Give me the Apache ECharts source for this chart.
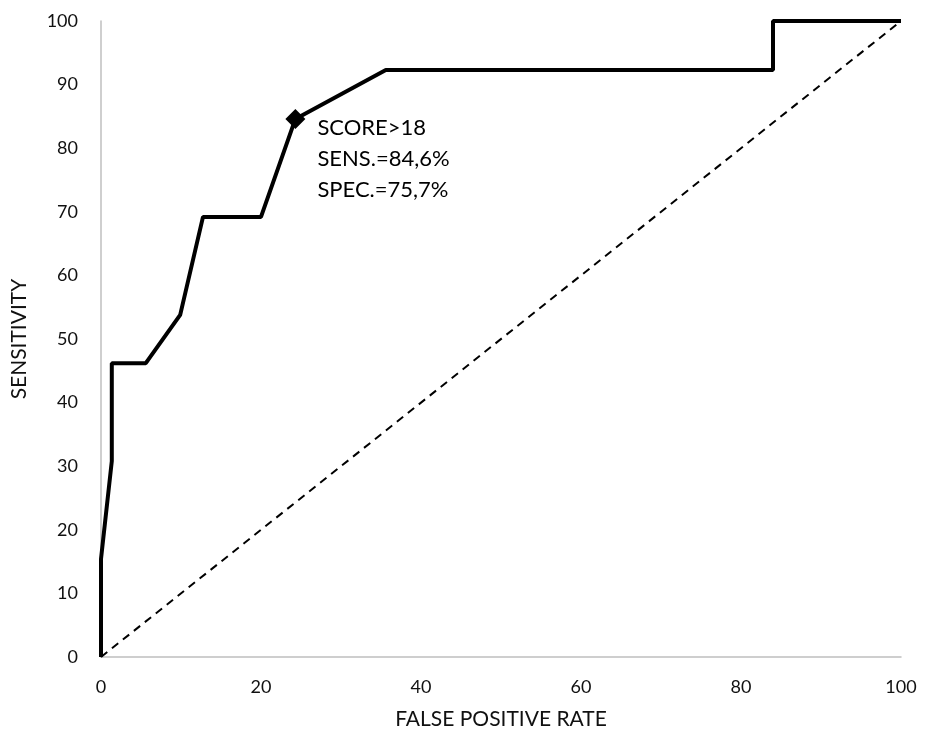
<!DOCTYPE html>
<html>
<head>
<meta charset="utf-8">
<script src="https://cdn.jsdelivr.net/npm/echarts@6/dist/echarts.min.js"></script>
<style>html,body{margin:0;padding:0;background:#fff}#c{width:933px;height:735px}</style>
</head>
<body>
<div id="c"></div>
<script>
var rocFPR = [0, 0, 1.35, 1.35, 5.6, 9.9, 12.75, 20.0, 24.3, 35.6, 84.0, 84.0, 100];
var rocSens = [0, 15.4, 30.8, 46.2, 46.2, 53.8, 69.2, 69.2, 84.6, 92.3, 92.3, 100, 100];
var refFPR = [0, 100];
var refSens = [0, 100];
var cutFPR = [24.3];
var cutSens = [84.6];
var cutLabel = ['SCORE>18', 'SENS.=84,6%', 'SPEC.=75,7%'];
var xTitle = 'FALSE POSITIVE RATE';
var yTitle = 'SENSITIVITY';

function pairs(a, b) { return a.map(function (v, i) { return [v, b[i]]; }); }

var font = 'Lato';
var chart = echarts.init(document.getElementById('c'));
chart.setOption({
  animation: false,
  grid: { left: 101, right: 32, top: 21, bottom: 78 },
  xAxis: {
    type: 'value', min: 0, max: 100, interval: 20,
    name: xTitle, nameLocation: 'middle', nameGap: 52,
    nameTextStyle: { fontFamily: font, fontSize: 21, color: '#111' },
    axisLine: { lineStyle: { color: '#bfbfbf', width: 1.5 } },
    axisTick: { show: false },
    splitLine: { show: false },
    axisLabel: { fontFamily: font, fontSize: 18, color: '#111', margin: 21 }
  },
  yAxis: {
    type: 'value', min: 0, max: 100, interval: 10,
    name: yTitle, nameLocation: 'middle', nameGap: 71, nameRotate: 90,
    nameTextStyle: { fontFamily: font, fontSize: 21, color: '#111' },
    axisLine: { show: true, lineStyle: { color: '#bfbfbf', width: 1.5 } },
    axisTick: { show: false },
    splitLine: { show: false },
    axisLabel: { fontFamily: font, fontSize: 18, color: '#111', margin: 23 }
  },
  series: [
    {
      type: 'line', data: pairs(refFPR, refSens), symbol: 'none',
      lineStyle: { color: '#000', width: 2, type: [8, 6] }, z: 1
    },
    {
      type: 'line', data: pairs(rocFPR, rocSens), symbol: 'none',
      lineStyle: { color: '#000', width: 4 }, z: 2
    },
    {
      type: 'scatter', data: pairs(cutFPR, cutSens), symbol: 'diamond', symbolSize: 20,
      itemStyle: { color: '#000', opacity: 1 }, z: 3,
      label: {
        show: true, position: 'right', distance: 12, offset: [0, 40],
        formatter: function () { return cutLabel.join('\n'); },
        fontFamily: font, fontSize: 22, lineHeight: 31, color: '#000', align: 'left', verticalAlign: 'middle'
      }
    }
  ]
});
</script>
</body>
</html>
